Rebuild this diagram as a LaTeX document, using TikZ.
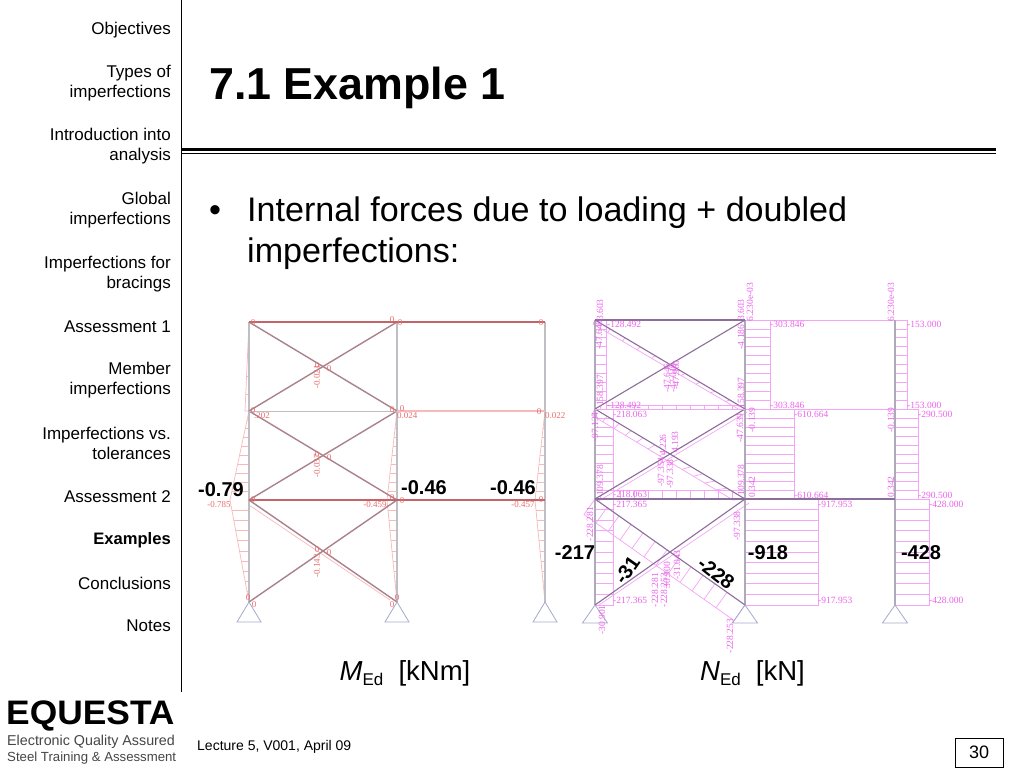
\documentclass[tikz,border=0pt]{standalone}
\usepackage{fontspec}
\setmainfont{Liberation Sans}
\newfontfamily\serifsmall{Liberation Serif}
\usetikzlibrary{calc}
\definecolor{mframe}{RGB}{190,190,196}
\definecolor{mdiag}{RGB}{170,130,140}
\definecolor{mbeam}{RGB}{195,100,105}
\definecolor{mpink}{RGB}{248,185,185}
\definecolor{mtext}{RGB}{235,110,110}
\definecolor{nframe}{RGB}{175,170,185}
\definecolor{ndiag}{RGB}{140,110,155}
\definecolor{npink}{RGB}{245,165,245}
\definecolor{ntext}{RGB}{235,100,235}
\definecolor{sup}{RGB}{165,170,205}
\definecolor{logogray}{RGB}{70,70,70}
\tikzset{
  navtext/.style={anchor=east,align=right,inner sep=0pt,font=\fontsize{17}{20.5}\selectfont},
  mval/.style={inner sep=0pt,text=mtext,font=\serifsmall\fontsize{9}{9}\selectfont},
  nval/.style={inner sep=0pt,text=ntext,anchor=west,font=\serifsmall\fontsize{9.5}{9.5}\selectfont},
  nvert/.style={inner sep=0pt,text=ntext,rotate=90,font=\serifsmall\fontsize{9.5}{9.5}\selectfont},
  callout/.style={inner sep=0pt,text=black,font=\bfseries\fontsize{20}{20}\selectfont},
  caption/.style={inner sep=0pt,anchor=base,font=\fontsize{27.5}{27.5}\selectfont},
  mcol/.style={draw=mframe,line width=1.1pt},
  mdia/.style={draw=mdiag,line width=1.4pt},
  mhat/.style={draw=mpink,line width=.7pt},
  ncol/.style={draw=nframe,line width=1.1pt},
  ndia/.style={draw=ndiag,line width=1.1pt},
  nhat/.style={draw=npink,line width=.7pt},
  support/.style={draw=sup,line width=.8pt},
}
\begin{document}
\begin{tikzpicture}[x=1pt,y=-1pt]
\useasboundingbox (0,0) rectangle (1024,768);
\fill[white] (0,0) rectangle (1024,768);

% --- sidebar
\draw[black,line width=1pt] (181,0) -- (181,692);
\foreach \yy/\tt [count=\i] in {
  30.5/{Objectives},83/{Types of\\imperfections},146/{Introduction into\\analysis},
  210/{Global\\imperfections},274/{Imperfections for\\bracings},327/{Assessment 1},
  380/{Member\\imperfections},443.5/{Imperfections vs.\\tolerances},497/{Assessment 2},
  583/{Conclusions},626/{Notes}}
  \node[navtext] (nav\i) at (171,\yy) {\tt};
\node[navtext,font=\bfseries\fontsize{16.6}{20.5}\selectfont] (navbold) at (171,540) {Examples};

% --- title
\node[inner sep=0pt,anchor=base west,font=\bfseries\fontsize{44.8}{44.8}\selectfont] (title) at (209,99.5) {7.1 Example 1};
\draw[black,line width=3pt] (181,149) -- (996,149);
\draw[black,line width=1pt] (181,153.5) -- (996,153.5);

% --- body text
\node[inner sep=0pt,anchor=base west,font=\fontsize{34.1}{34.1}\selectfont] (bullet) at (209,221.5) {•};
\node[inner sep=0pt,anchor=base west,font=\fontsize{34.1}{34.1}\selectfont] (line1) at (247,221.5) {Internal forces due to loading + doubled};
\node[inner sep=0pt,anchor=base west,font=\fontsize{34.1}{34.1}\selectfont] (line2) at (247,262) {imperfections:};

% --- M diagram: moment fill
\draw[mhat] (249,322) -- (245,411) -- (249,411);
\draw[mhat] (249,411) -- (230,500) -- (249,602);
\draw[mhat] (397,411) -- (387,500) -- (397,602);
\draw[mhat] (545,411) -- (535,500) -- (545,602);
\foreach \yy in {340,358,376,394} \draw[mhat] (249,\yy) -- ({249-4*(\yy-322)/89},\yy);
\foreach \t in {.1,.2,...,.91} {
  \draw[mhat] ({249-19*\t},{411+89*\t}) -- (249,{411+89*\t});
  \draw[mhat] ({397-10*\t},{411+89*\t}) -- (397,{411+89*\t});
  \draw[mhat] ({545-10*\t},{411+89*\t}) -- (545,{411+89*\t});
  \draw[mhat] ({230+19*\t},{500+102*\t}) -- (249,{500+102*\t});
  \draw[mhat] ({387+10*\t},{500+102*\t}) -- (397,{500+102*\t});
  \draw[mhat] ({535+10*\t},{500+102*\t}) -- (545,{500+102*\t});
}
\draw[mhat] (249,505) -- (390,600);
% M diagram: frame
\foreach \xx in {249,397,545} \draw[mcol] (\xx,322) -- (\xx,602);
\draw[mdia] (249,322) -- (397,411);
\draw[mdia] (249,411) -- (397,322);
\draw[mdia] (249,411) -- (397,500);
\draw[mdia] (249,500) -- (397,411);
\draw[mdia] (249,500) -- (397,602);
\draw[mdia] (249,602) -- (397,500);
\draw[mbeam,line width=1.1pt] (249,322) -- (545,322);
\draw[mframe,line width=1pt] (249,411) -- (397,411);
\draw[mpink,line width=1.1pt] (397,411) -- (545,411);
\draw[mbeam,line width=1.1pt] (249,500) -- (545,500);
\foreach \xx in {249,397,545}
  \draw[support] (\xx,602) -- (\xx-12,622) -- (\xx+12,622) -- cycle;
% M diagram: small zero marks and values
\foreach \xx/\yy [count=\i] in {253/323,392/320,400/323,541/323,253/411,392/410,402/409,539/412,
    253/500,392/498,402/501,541/500,317/366,329/369,317/455,329/458,317/550,329/553,248/598,254/605,397/598,392/605}
  \node[mval] (mz\i) at (\xx,\yy) {0};
\node[mval,anchor=west] (m1b) at (254,415.5) {.202};
\node[mval,anchor=west] (m2) at (397,415.5) {0.024};
\node[mval,anchor=west] (m3) at (545,415.5) {0.022};
\node[mval] (m4) at (219,504.5) {-0.785};
\node[mval] (m5) at (375,504.5) {-0.459};
\node[mval] (m6) at (523,504.5) {-0.457};
\node[mval,rotate=90] (m7) at (317,377) {-0.021};
\node[mval,rotate=90] (m8) at (317,466) {-0.037};
\node[mval,rotate=90] (m9) at (317,566) {-0.143};

% --- N diagram: force fill
\draw[nhat] (595,320) rectangle (606,409);
\draw[nhat] (595,409) rectangle (613,499);
\draw[nhat] (595,499) rectangle (613,605);
\draw[nhat] (745,320) rectangle (770,409);
\draw[nhat] (745,409) rectangle (794,499);
\draw[nhat] (745,499) rectangle (818,605);
\draw[nhat] (895,320) rectangle (907,409);
\draw[nhat] (895,409) rectangle (918,499);
\draw[nhat] (895,499) rectangle (929,605);
\draw[nhat] (745,320) -- (895,320);
\draw[nhat] (745,409) -- (895,409);
\foreach \t in {.1,.2,...,.91} {
  \draw[nhat] (595,{320+89*\t}) -- (606,{320+89*\t});
  \draw[nhat] (745,{320+89*\t}) -- (770,{320+89*\t});
  \draw[nhat] (895,{320+89*\t}) -- (907,{320+89*\t});
  \draw[nhat] (595,{409+90*\t}) -- (613,{409+90*\t});
  \draw[nhat] (745,{409+90*\t}) -- (794,{409+90*\t});
  \draw[nhat] (895,{409+90*\t}) -- (918,{409+90*\t});
  \draw[nhat] (595,{499+106*\t}) -- (613,{499+106*\t});
  \draw[nhat] (745,{499+106*\t}) -- (818,{499+106*\t});
  \draw[nhat] (895,{499+106*\t}) -- (929,{499+106*\t});
}
% beam hatches
\draw[nhat] (606,405) -- (745,405);
\draw[nhat] (613,490) -- (745,490);
\foreach \xx in {620,634,648,662,676,690,704,718,732} {
  \draw[nhat] (\xx,405) -- (\xx,409);
  \draw[nhat] (\xx,490) -- (\xx,499);
}
% diagonal force bands
\coordinate (a1) at (595,320); \coordinate (b1) at (745,409);
\coordinate (a1o) at (593,324); \coordinate (b1o) at (740,410);
\draw[nhat] (a1) -- (a1o) -- (b1o) -- (b1);
\coordinate (a2) at (595,409); \coordinate (b2) at (745,499);
\coordinate (a2o) at (591.5,415); \coordinate (b2o) at (733,500);
\coordinate (a3) at (595,499); \coordinate (b3) at (745,605);
\coordinate (a3o) at (584,514.5); \coordinate (b3o) at (734,620.5);
\coordinate (c2o) at (597,502); \coordinate (d2o) at (747,412);
\coordinate (c3o) at (599,605); \coordinate (d3o) at (749,503);
\draw[nhat] (a2) -- (a2o) -- (b2o) -- (b2);
\draw[nhat] (a3) -- (a3o) -- (b3o) -- (b3);
\draw[nhat] (c2o) -- (d2o);
\draw[nhat] (c3o) -- (d3o);
\foreach \t in {.08,.16,...,.93} {
  \draw[nhat] ($(a2)!\t!(b2)$) -- ($(a2o)!\t!(b2o)$);
  \draw[nhat] ($(a3)!\t!(b3)$) -- ($(a3o)!\t!(b3o)$);
}
\foreach \t in {.1,.2,...,.91} \draw[nhat] ($(a1)!\t!(b1)$) -- ($(a1o)!\t!(b1o)$);
% N diagram: frame
\foreach \xx in {595,745,895} \draw[ncol] (\xx,320) -- (\xx,605);
\draw[ndia] (595,320) -- (745,320);
\draw[ndia] (595,499) -- (895,499);
\draw[ndia] (595,320) -- (745,409);
\draw[ndia] (595,409) -- (745,320);
\draw[ndia] (595,409) -- (745,499);
\draw[ndia] (595,499) -- (745,409);
\draw[ndia] (595,499) -- (745,605);
\draw[ndia] (595,605) -- (745,499);
\draw[npink,line width=.9pt] (595,409) -- (745,409);
\foreach \xx in {595,745,895}
  \draw[support] (\xx,605) -- (\xx-12.5,623) -- (\xx+12.5,623) -- cycle;
% N diagram: values
\foreach \xx/\yy/\tt [count=\i] in {
  607/324/{-128.492},607/405/{-128.492},613/414/{-218.063},613/494/{-218.063},
  613/504/{-217.365},613/600/{-217.365},
  770/324/{-303.846},770/405/{-303.846},794/414/{-610.664},794/495/{-610.664},
  818/504/{-917.953},818/600/{-917.953},
  907/324/{-153.000},907/405/{-153.000},918/414/{-290.500},918/495/{-290.500},
  929/504/{-428.000},929/600/{-428.000}}
  \node[nval] (nv\i) at (\xx,\yy) {\tt};
\foreach \xx/\yy/\tt [count=\i] in {
  750/302/{6.230e-03},891/302/{6.230e-03},600/310/{3.603},741/310/{3.603},
  599/335/{-47.646},741/337/{-4.186},600/392/{-158.397},741/393/{158.397},
  667/378/{-47.646},673/378/{-47.019},676/375/{-47.960},
  595/427/{-97.134},740/428/{-47.639},752/420/{-0.139},891/420/{-0.139},
  600/482/{-109.378},741/480/{109.378},752/487/{0.342},891/487/{0.342},
  663/445/{4.226},675/442/{4.193},661/472/{-97.354},670/474/{-97.338},
  737/526/{-97.338},590/524/{-228.281},602/620/{-30.901},
  655/590/{-228.281},664/590/{-228.253},667/575/{30.900},677/565/{-31.043},
  730/636/{-228.253}}
  \node[nvert] (nr\i) at (\xx,\yy) {\tt};

% --- bold callouts
\node[callout] (c1) at (221,490) {-0.79};
\node[callout] (c2n) at (424,488) {-0.46};
\node[callout] (c3n) at (513,488) {-0.46};
\node[callout] (c4) at (575,553) {-217};
\node[callout,rotate=55] (c5) at (627,570) {-31};
\node[callout,rotate=-38] (c6) at (716,573) {-228};
\node[callout] (c7) at (768,553) {-918};
\node[callout] (c8) at (921,553) {-428};

% --- captions
\node[caption] (capm) at (405,680) {\textit{M}\raisebox{-.35ex}{\fontsize{17}{17}\selectfont Ed}\hspace{.55em}[kNm]};
\node[caption] (capn) at (752.5,680) {\textit{N}\raisebox{-.35ex}{\fontsize{17}{17}\selectfont Ed}\hspace{.55em}[kN]};

% --- footer
\node[inner sep=0pt,anchor=base west,xscale=1.04,transform shape,font=\bfseries\fontsize{34}{34}\selectfont] (logo) at (6,724) {EQUESTA};
\node[inner sep=0pt,anchor=base west,text=logogray,font=\fontsize{14.3}{14.3}\selectfont] (tag1) at (7,745) {Electronic Quality Assured};
\node[inner sep=0pt,anchor=base west,text=logogray,font=\fontsize{13.2}{13.2}\selectfont] (tag2) at (7,761) {Steel Training \& Assessment};
\node[inner sep=0pt,anchor=base west,font=\fontsize{14}{14}\selectfont] (lect) at (197,750) {Lecture 5, V001, April 09};
\node[draw=black,line width=1pt,minimum width=48pt,minimum height=29pt,inner sep=0pt,font=\fontsize{18}{18}\selectfont] (page) at (979,752.5) {30};
\end{tikzpicture}
\end{document}
